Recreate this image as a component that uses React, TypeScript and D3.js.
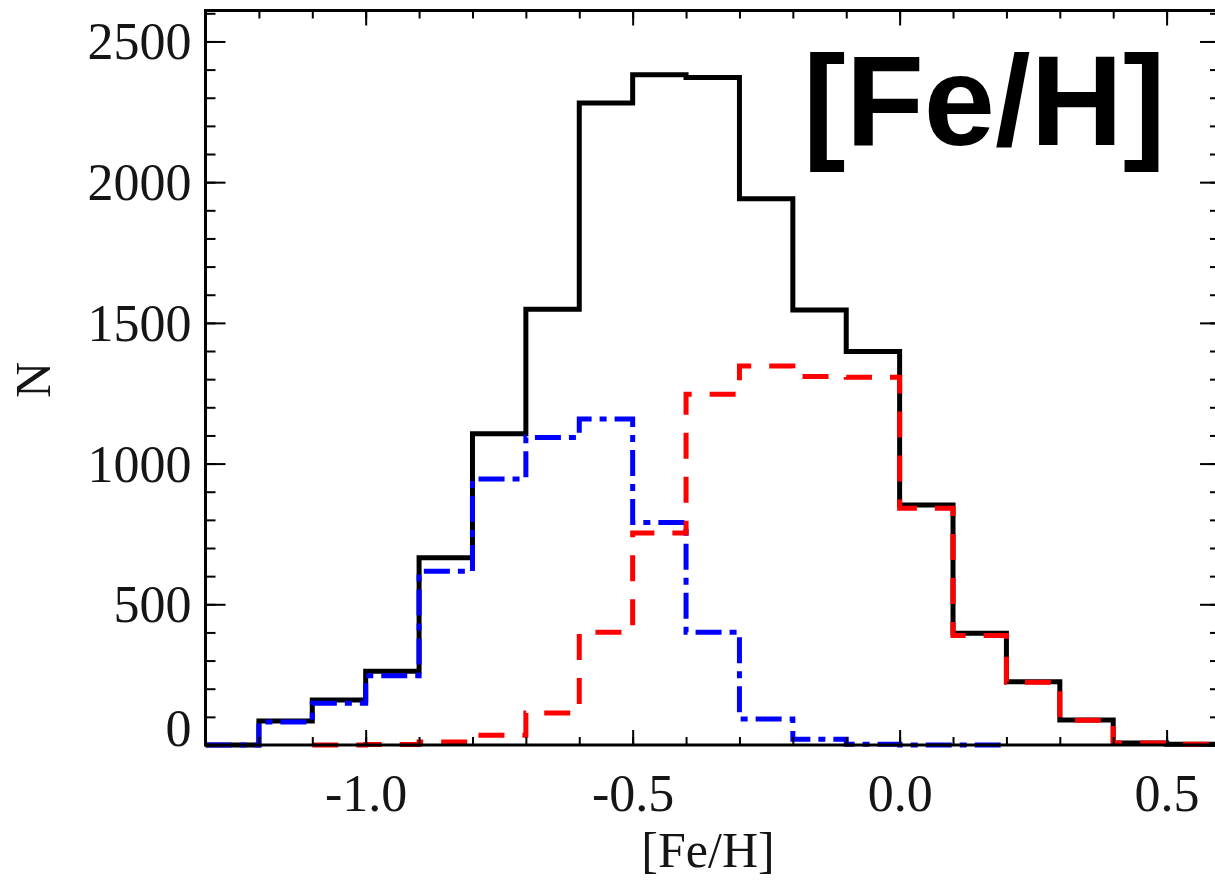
import React, { useEffect, useRef } from "react";
import * as d3 from "d3";

// bin edges of the [Fe/H] histogram (0.1 dex bins)
const binEdges = [
  -1.3, -1.2, -1.1, -1.0, -0.9, -0.8, -0.7, -0.6, -0.5, -0.4, -0.3, -0.2, -0.1,
  0.0, 0.1, 0.2, 0.3, 0.4, 0.5, 0.6,
];

// counts per bin, null = series not drawn there
const totalCounts = [
  0, 85, 160, 262, 665, 1106, 1548, 2281, 2382, 2372, 1941, 1546, 1398, 853,
  397, 225, 89, 7, 3,
];
const blueCounts = [
  0, 82, 148, 246, 617, 945, 1093, 1158, 791, 401, 92, 20, 3, 0, 0, null, null,
  null, null,
];
const redCounts = [
  null, null, 0, 2, 11, 35, 114, 401, 753, 1246, 1347, 1309, 1307, 841, 389,
  223, 88, 7, 3,
];

const xMajorTicks = [-1.0, -0.5, 0.0, 0.5];
const yMajorTicks = [0, 500, 1000, 1500, 2000, 2500];

const series = [
  { name: "all", values: totalCounts, color: "#000000", dash: null },
  { name: "blue", values: blueCounts, color: "#0000ff", dash: "26 8 7 8" },
  { name: "red", values: redCounts, color: "#ff0000", dash: "26 18" },
];

const App = () => {
  const ref = useRef<HTMLDivElement>(null);

  useEffect(() => {
    drawChart();
  }, []);

  const drawChart = () => {
    const width = 1215,
      height = 880;
    const left = 205.5,
      right = 1220,
      top = 10.5,
      bottom = 745;
    const serif = "'Liberation Serif', 'Times New Roman', serif";

    const svg = d3
      .select(ref.current)
      .html("")
      .append("svg")
      .attr("width", width)
      .attr("height", height)
      .style("position", "absolute")
      .style("left", "0px")
      .style("top", "0px")
      .style("background", "#fff");

    const x = d3.scaleLinear().domain([-1.3, 0.6]).range([left, right]);
    const y = d3.scaleLinear().domain([0, 2610]).range([bottom, top]);

    svg
      .append("clipPath")
      .attr("id", "plot-clip")
      .append("rect")
      .attr("x", left)
      .attr("y", top - 5)
      .attr("width", right - left)
      .attr("height", bottom - top + 10);

    // histograms
    const line = d3
      .line<[number, number]>()
      .x((d) => x(d[0]))
      .y((d) => y(d[1]))
      .curve(d3.curveStepAfter);

    const g = svg.append("g").attr("clip-path", "url(#plot-clip)");
    series.forEach((s) => {
      const pts: [number, number][] = [];
      let last = -1;
      s.values.forEach((v, i) => {
        if (v === null) return;
        pts.push([binEdges[i], v]);
        last = i;
      });
      pts.push([binEdges[last + 1], s.values[last] as number]);
      const path = g
        .append("path")
        .attr("d", line(pts))
        .attr("fill", "none")
        .attr("stroke", s.color)
        .attr("stroke-width", 5)
        .attr("stroke-linejoin", "miter")
        .attr("stroke-linecap", "butt");
      if (s.dash) path.attr("stroke-dasharray", s.dash);
    });

    // axes: ticks point inward
    const xMinor = d3.range(-1.3, 0.61, 0.1);
    const yMinor = d3.range(0, 2601, 100);

    const tickStyle = (sel: any) => {
      sel.select(".domain").remove();
      sel.selectAll("line").attr("stroke", "#000").attr("stroke-width", 2);
    };

    svg
      .append("g")
      .attr("transform", `translate(0,${bottom})`)
      .call(d3.axisBottom(x).tickValues(xMinor).tickSize(-8).tickFormat(() => ""))
      .call(tickStyle);
    svg
      .append("g")
      .attr("transform", `translate(0,${top})`)
      .call(d3.axisTop(x).tickValues(xMinor).tickSize(-8).tickFormat(() => ""))
      .call(tickStyle);
    svg
      .append("g")
      .attr("transform", `translate(0,${top})`)
      .call(d3.axisTop(x).tickValues(xMajorTicks).tickSize(-15).tickFormat(() => ""))
      .call(tickStyle);

    const xAxis = svg
      .append("g")
      .attr("transform", `translate(0,${bottom})`)
      .call(
        d3
          .axisBottom(x)
          .tickValues(xMajorTicks)
          .tickSize(-15)
          .tickFormat((d: any) => (+d).toFixed(1))
      )
      .call(tickStyle);
    xAxis
      .selectAll("text")
      .attr("y", 66)
      .attr("dy", null)
      .attr("fill", "#151515")
      .style("font-family", serif)
      .style("font-size", "52px");

    svg
      .append("g")
      .attr("transform", `translate(${left},0)`)
      .call(d3.axisLeft(y).tickValues(yMinor).tickSize(-10).tickFormat(() => ""))
      .call(tickStyle);
    svg
      .append("g")
      .attr("transform", `translate(${right},0)`)
      .call(d3.axisRight(y).tickValues(yMinor).tickSize(-10).tickFormat(() => ""))
      .call(tickStyle);
    svg
      .append("g")
      .attr("transform", `translate(${right},0)`)
      .call(d3.axisRight(y).tickValues(yMajorTicks).tickSize(-20).tickFormat(() => ""))
      .call(tickStyle);

    const yAxis = svg
      .append("g")
      .attr("transform", `translate(${left},0)`)
      .call(
        d3
          .axisLeft(y)
          .tickValues(yMajorTicks)
          .tickSize(-20)
          .tickFormat((d: any) => String(d))
      )
      .call(tickStyle);
    yAxis
      .selectAll("text")
      .attr("x", -14)
      .attr("dy", null)
      .attr("y", (d: any) => (d === 0 ? 0 : 17.5))
      .attr("fill", "#151515")
      .style("font-family", serif)
      .style("font-size", "52px");

    // frame
    svg
      .append("rect")
      .attr("x", left)
      .attr("y", top)
      .attr("width", right - left)
      .attr("height", bottom - top)
      .attr("fill", "none")
      .attr("stroke", "#000")
      .attr("stroke-width", 3);

    // axis titles
    svg
      .append("text")
      .attr("x", 708)
      .attr("y", 867)
      .attr("text-anchor", "middle")
      .attr("fill", "#151515")
      .style("font-family", serif)
      .style("font-size", "50px")
      .text("[Fe/H]");

    svg
      .append("text")
      .attr("transform", "translate(50,380) rotate(-90)")
      .attr("text-anchor", "middle")
      .attr("fill", "#151515")
      .style("font-family", serif)
      .style("font-size", "50px")
      .text("N");

    // panel label
    svg
      .append("text")
      .attr("x", 803)
      .attr("y", 145)
      .attr("fill", "#000")
      .style("font-family", "'Liberation Sans', Arial, sans-serif")
      .style("font-weight", "bold")
      .style("font-size", "128px")
      .text("[Fe/H]");
  };

  return <div ref={ref}></div>;
};

export default App;
